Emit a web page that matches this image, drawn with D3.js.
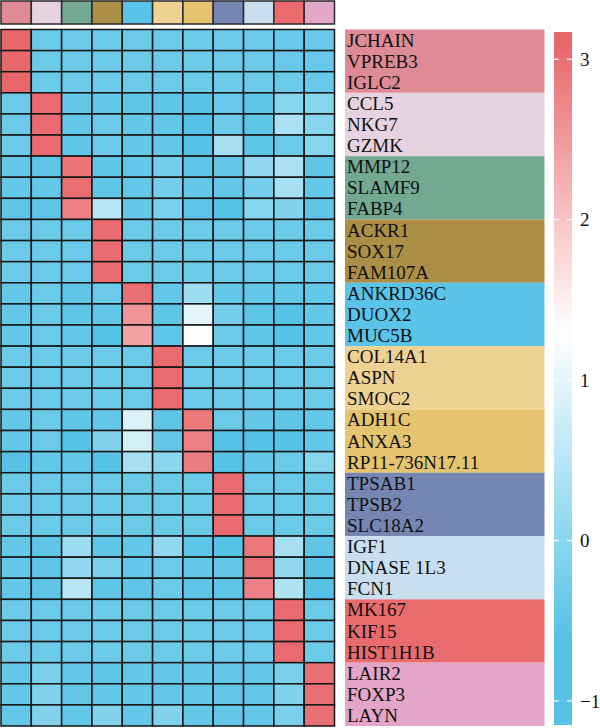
<!DOCTYPE html>
<html>
<head>
<meta charset="utf-8">
<script src="https://cdn.jsdelivr.net/npm/d3@7"></script>
<style>
  body { margin: 0; background: #fff; }
  text { font-family: "Liberation Serif", "DejaVu Serif", serif; fill: #111; }
</style>
</head>
<body>
<script>
var genes = ["JCHAIN","VPREB3","IGLC2","CCL5","NKG7","GZMK","MMP12","SLAMF9","FABP4",
  "ACKR1","SOX17","FAM107A","ANKRD36C","DUOX2","MUC5B","COL14A1","ASPN","SMOC2",
  "ADH1C","ANXA3","RP11-736N17.11","TPSAB1","TPSB2","SLC18A2","IGF1","DNASE 1L3","FCN1",
  "MK167","KIF15","HIST1H1B","LAIR2","FOXP3","LAYN"];

var clusters = d3.range(11);
var clusterColors = ["#de8b95","#e7d2df","#73a892","#ab8f46","#59c3e8","#edd294",
  "#e6c36f","#7686b3","#c9dff0","#ea6b6e","#e3a6c8"];

var colorTicks = [-1, 0, 1, 2, 3];

// expression values, one row per gene, one column per cluster
var values = [
  [3.1,-0.35,-0.35,-0.35,-0.35,-0.35,-0.35,-0.35,-0.35,-0.4,-0.4],
  [3.1,-0.35,-0.35,-0.35,-0.35,-0.35,-0.35,-0.35,-0.35,-0.4,-0.4],
  [3.1,-0.35,-0.35,-0.35,-0.35,-0.35,-0.35,-0.35,-0.35,-0.35,-0.4],
  [-0.35,3.05,-0.45,-0.45,-0.5,-0.5,-0.55,-0.4,-0.5,-0.05,-0.05],
  [-0.35,3.05,-0.45,-0.35,-0.45,-0.45,-0.6,-0.35,-0.5,0.35,-0.05],
  [-0.35,3.05,-0.5,-0.35,-0.45,-0.45,-0.6,0.3,-0.5,-0.35,-0.05],
  [-0.45,-0.5,2.95,-0.5,-0.45,-0.25,-0.5,-0.45,0.05,0.35,-0.5],
  [-0.45,-0.45,3.0,-0.5,-0.45,-0.25,-0.45,-0.45,-0.25,0.3,-0.45],
  [-0.5,-0.5,2.8,0.5,-0.45,-0.2,-0.5,-0.6,-0.05,-0.1,-0.5],
  [-0.35,-0.35,-0.35,3.05,-0.35,-0.35,-0.35,-0.35,-0.35,-0.35,-0.35],
  [-0.35,-0.35,-0.35,3.05,-0.35,-0.35,-0.35,-0.35,-0.35,-0.35,-0.35],
  [-0.35,-0.35,-0.35,3.05,-0.35,-0.35,-0.35,-0.35,-0.35,-0.35,-0.35],
  [-0.45,-0.35,-0.5,-0.35,3.0,-0.45,0.2,-0.45,-0.45,-0.45,-0.45],
  [-0.45,-0.35,-0.5,-0.45,2.55,-0.5,1.0,-0.25,-0.5,-0.6,-0.45],
  [-0.45,-0.35,-0.45,-0.6,2.4,-0.5,1.25,-0.35,-0.5,-0.6,-0.45],
  [-0.35,-0.35,-0.35,-0.35,-0.35,3.05,-0.35,-0.35,-0.35,-0.35,-0.35],
  [-0.35,-0.35,-0.35,-0.35,-0.35,3.05,-0.35,-0.35,-0.35,-0.35,-0.35],
  [-0.35,-0.35,-0.35,-0.35,-0.35,3.05,-0.35,-0.35,-0.35,-0.35,-0.35],
  [-0.45,-0.35,-0.5,-0.45,0.9,-0.5,2.9,-0.35,-0.45,-0.5,-0.45],
  [-0.45,-0.35,-0.6,-0.1,0.8,-0.45,2.8,-0.6,-0.6,-0.6,-0.45],
  [-0.6,-0.45,-0.45,-0.6,0.3,0.0,2.85,-0.6,-0.45,-0.35,-0.05],
  [-0.35,-0.35,-0.35,-0.35,-0.35,-0.35,-0.35,3.05,-0.35,-0.35,-0.35],
  [-0.35,-0.35,-0.35,-0.35,-0.35,-0.35,-0.35,3.05,-0.35,-0.35,-0.35],
  [-0.35,-0.35,-0.35,-0.35,-0.35,-0.35,-0.35,3.05,-0.35,-0.35,-0.35],
  [-0.45,-0.5,0.2,-0.5,-0.45,0.05,-0.5,-0.6,2.9,0.3,-0.5],
  [-0.45,-0.5,0.05,-0.2,-0.45,-0.35,-0.45,-0.45,3.0,0.05,-0.6],
  [-0.45,-0.5,0.5,-0.5,-0.5,-0.35,-0.5,-0.5,2.8,0.4,-0.6],
  [-0.35,-0.35,-0.35,-0.35,-0.35,-0.35,-0.35,-0.35,-0.35,3.05,-0.35],
  [-0.35,-0.35,-0.35,-0.35,-0.35,-0.35,-0.35,-0.35,-0.35,3.05,-0.35],
  [-0.35,-0.35,-0.35,-0.35,-0.35,-0.35,-0.35,-0.35,-0.35,3.05,-0.35],
  [-0.45,-0.2,-0.45,-0.5,-0.45,-0.45,-0.45,-0.45,-0.45,-0.2,3.0],
  [-0.45,-0.1,-0.45,-0.45,-0.45,-0.45,-0.45,-0.45,-0.45,-0.1,3.0],
  [-0.45,-0.1,-0.45,-0.1,-0.45,-0.1,-0.45,-0.45,-0.45,-0.2,3.0]
];

var width = 600, height = 728;

var svg = d3.select("body").append("svg")
  .attr("width", width)
  .attr("height", height);

var x = d3.scaleBand().domain(clusters).range([1, 334.5]);
var y = d3.scaleBand().domain(genes).range([29.5, 726]);

var color = d3.scaleLinear()
  .domain([-0.6, 1.3, 3.1])
  .range(["#56c2e6", "#ffffff", "#e8676b"])
  .clamp(true);

// top cluster annotation
svg.append("g").selectAll("rect")
  .data(clusters)
  .enter().append("rect")
  .attr("x", function(d) { return x(d); })
  .attr("y", 1)
  .attr("width", x.bandwidth())
  .attr("height", 23)
  .attr("fill", function(d) { return clusterColors[d]; })
  .attr("stroke", "#2a2a2a")
  .attr("stroke-width", 1.5);

// heatmap cells
var cells = [];
values.forEach(function(row, i) {
  row.forEach(function(v, j) {
    cells.push({ gene: genes[i], cluster: j, value: v });
  });
});

svg.append("g").selectAll("rect")
  .data(cells)
  .enter().append("rect")
  .attr("x", function(d) { return x(d.cluster); })
  .attr("y", function(d) { return y(d.gene); })
  .attr("width", x.bandwidth())
  .attr("height", y.bandwidth())
  .attr("fill", function(d) { return color(d.value); })
  .attr("stroke", "#151515")
  .attr("stroke-width", 1.5);

// gene label panel, coloured by cluster (3 genes each)
var panel = svg.append("g");
panel.selectAll("rect")
  .data(clusters)
  .enter().append("rect")
  .attr("x", 345)
  .attr("y", function(d) { return y(genes[d * 3]); })
  .attr("width", 199.5)
  .attr("height", y.bandwidth() * 3)
  .attr("fill", function(d) { return clusterColors[d]; });

panel.selectAll("text")
  .data(genes)
  .enter().append("text")
  .attr("x", 347)
  .attr("y", function(d) { return y(d) + y.bandwidth() / 2 + 6.5; })
  .attr("font-size", 19)
  .text(function(d) { return d; });

// colour bar
var cy = d3.scaleLinear().domain([-1.15, 3.17]).range([725, 32]);
var defs = svg.append("defs");
var grad = defs.append("linearGradient")
  .attr("id", "cbar")
  .attr("x1", 0).attr("y1", 1).attr("x2", 0).attr("y2", 0);
d3.range(0, 1.0001, 0.02).forEach(function(t) {
  var v = cy.domain()[0] + t * (cy.domain()[1] - cy.domain()[0]);
  grad.append("stop").attr("offset", t).attr("stop-color", color(v));
});

svg.append("rect")
  .attr("x", 554)
  .attr("y", cy(3.17))
  .attr("width", 18)
  .attr("height", cy(-1.15) - cy(3.17))
  .attr("fill", "url(#cbar)");

svg.append("g").selectAll("line.l")
  .data(colorTicks)
  .enter().append("line")
  .attr("x1", 554).attr("x2", 559)
  .attr("y1", function(d) { return cy(d); })
  .attr("y2", function(d) { return cy(d); })
  .attr("stroke", "#fff").attr("stroke-width", 1.2);

svg.append("g").selectAll("line.r")
  .data(colorTicks)
  .enter().append("line")
  .attr("x1", 567).attr("x2", 572)
  .attr("y1", function(d) { return cy(d); })
  .attr("y2", function(d) { return cy(d); })
  .attr("stroke", "#fff").attr("stroke-width", 1.2);

var axis = svg.append("g")
  .attr("transform", "translate(572,0)")
  .call(d3.axisRight(cy).tickValues(colorTicks).tickFormat(d3.format("d"))
    .tickSize(0).tickPadding(8));
axis.select(".domain").remove();
axis.selectAll("text")
  .attr("font-size", 19)
  .attr("font-family", "Liberation Serif, serif")
  .attr("fill", "#111");
</script>
</body>
</html>
